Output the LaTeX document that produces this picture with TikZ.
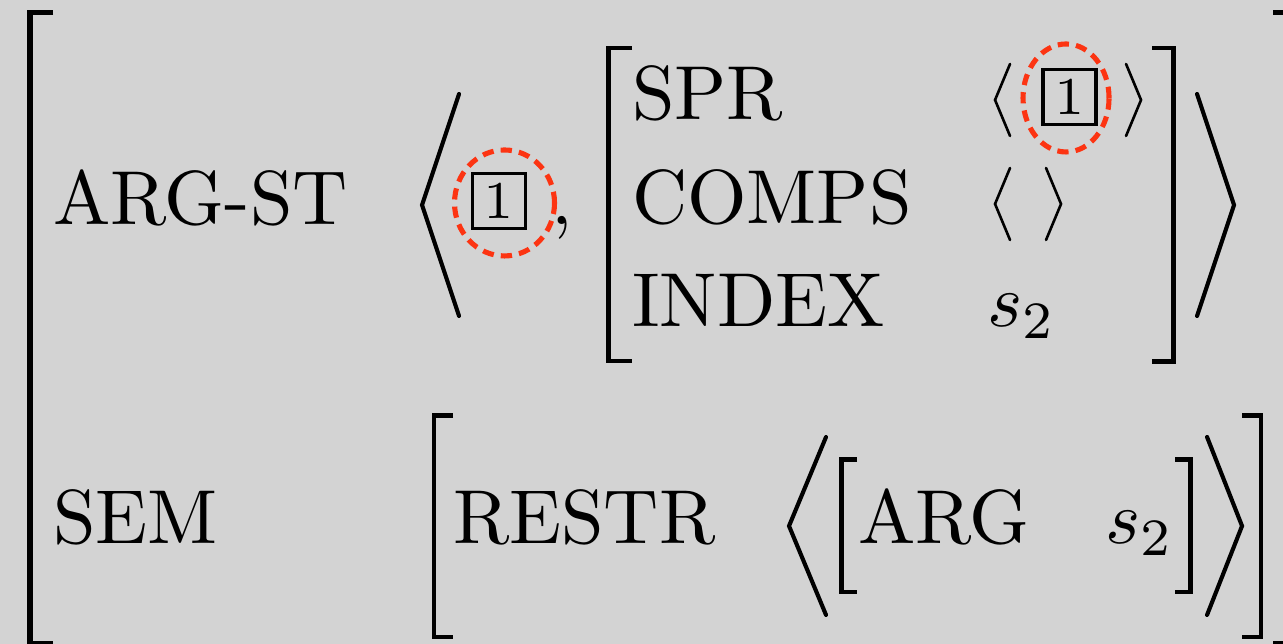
\documentclass[tikz,border=0pt]{standalone}
\usetikzlibrary{shapes.geometric}
\definecolor{bggray}{RGB}{211,211,211}
\definecolor{tagred}{RGB}{252,52,18}
\begin{document}
\begin{tikzpicture}[x=0.13333pt,y=-0.13333pt,
  lbl/.style={anchor=base west,inner sep=0pt,outer sep=0pt,font=\fontsize{10.2}{12}\selectfont},
  sqbr/.style={line width=0.6pt,line join=miter,line cap=butt},
  outerbr/.style={line width=0.75pt,line join=miter,line cap=butt},
  bigang/.style={line width=0.55pt,line cap=round,line join=miter},
  smallang/.style={line width=0.35pt,line cap=round,line join=miter},
  tagbox/.style={draw,line width=0.42pt,inner sep=0pt,outer sep=0pt,minimum width=7.07pt,minimum height=7.33pt,font=\fontsize{7.1}{8}\selectfont},
  tagring/.style={ellipse,draw=tagred,line width=0.68pt,dash pattern=on 1.5pt off 0.95pt,inner sep=0pt,outer sep=0pt}
]
\fill[bggray] (0,0) rectangle (1283,644);
\useasboundingbox (0,0) rectangle (1283,644);
\clip (0,0) rectangle (1283,644);

% outer brackets
\draw[outerbr] (53,12.5) -- (30,12.5) -- (30,643.5) -- (53,643.5);
\draw[outerbr] (1273,12.5) -- (1290,12.5) -- (1290,643.5) -- (1273,643.5);

% row ARG-ST
\node[lbl] (argst) at (53,225) {ARG-ST};
\draw[bigang] (459,94) -- (422,205) -- (459,316);
\node[tagbox] (tagA) at (499,201) {1};
\node[lbl] (comma) at (551,225) {,};
\node[tagring,minimum width=13.33pt,minimum height=14.13pt] (ringA) at (504.5,203) {};

% inner matrix
\draw[sqbr] (632,48) -- (608.5,48) -- (608.5,361) -- (632,361);
\draw[sqbr] (1152,48) -- (1173.5,48) -- (1173.5,361.5) -- (1152,361.5);
\node[lbl] (spr) at (632,120) {SPR};
\node[lbl] (comps) at (632,224) {COMPS};
\node[lbl] (index) at (632,327) {INDEX};
\draw[smallang] (1010,64) -- (995,100) -- (1010,136);
\node[tagbox] (tagB) at (1069.5,97) {1};
\draw[smallang] (1126,64) -- (1141,100) -- (1126,136);
\node[tagring,minimum width=11.47pt,minimum height=14.4pt] (ringB) at (1066,98) {};
\draw[smallang] (1010,168) -- (995,204) -- (1010,240);
\draw[smallang] (1046,168) -- (1061,204) -- (1046,240);
\node[lbl] (s2a) at (987,327) {$s_2$};
\draw[bigang] (1197,94) -- (1234,205) -- (1197,316);

% row SEM
\node[lbl] (sem) at (53,544) {SEM};
\draw[sqbr] (453,415.5) -- (434,415.5) -- (434,637) -- (453,637);
\draw[sqbr] (1242,415.5) -- (1261,415.5) -- (1261,637) -- (1242,637);
\node[lbl] (restr) at (453,544) {RESTR};
\draw[bigang] (826,437) -- (789,526) -- (826,615);
\draw[sqbr] (857,459.5) -- (841.5,459.5) -- (841.5,592) -- (857,592);
\node[lbl] (arg) at (858,544) {ARG};
\node[lbl] (s2b) at (1105,544) {$s_2$};
\draw[sqbr] (1175,459.5) -- (1190.5,459.5) -- (1190.5,592) -- (1175,592);
\draw[bigang] (1207,437) -- (1242,526) -- (1207,615);
\end{tikzpicture}
\end{document}
